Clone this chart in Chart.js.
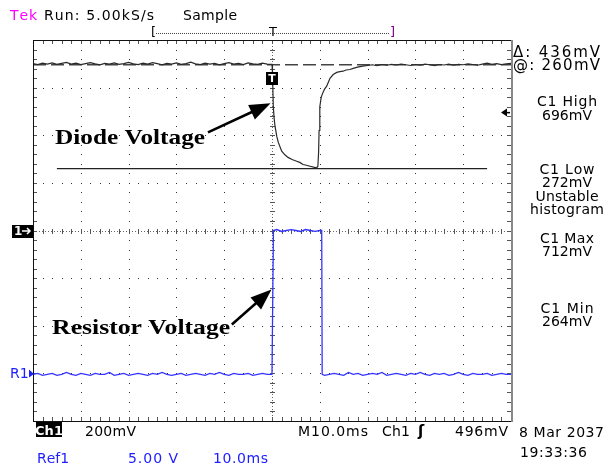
<!DOCTYPE html>
<html><head><meta charset="utf-8">
<script src="https://cdn.jsdelivr.net/npm/chart.js@4.4.0/dist/chart.umd.min.js"></script>
<style>html,body{margin:0;padding:0;background:#fff;} #wrap{position:relative;width:607px;height:468px;}</style>
</head><body><div id="wrap"><canvas id="c"></canvas></div>
<script>
// Ch1 (diode voltage), time in ms, value in mV
const ch1Times = [
-50,-49,-48,-47,-46,-45,-44,-43,-42,-41,
-40,-39,-38,-37,-36,-35,-34,-33,-32,-31,
-30,-29,-28,-27,-26,-25,-24,-23,-22,-21,
-20,-19,-18,-17,-16,-15,-14,-13,-12,-11,
-10,-9,-8,-7,-6,-5,-4,-3,-2,-1,
0,0.1,0.27,0.45,0.63,1.0,1.32,2.03,2.7,3.35,4.2,5.17,5.8,6.49,7.2,7.95,8.7,9.35,9.6,
9.75,9.85,10.0,10.3,10.67,11.0,11.44,12.13,12.8,13.54,14.2,14.85,15.5,16.3,17.0,17.7,18.4,19.0,
20,21,22,23,24,25,26,27,28,29,
30,31,32,33,34,35,36,37,38,39,
40,41,42,43,44,45,46,47,48,49,50];
const ch1Values = [
701,697,703,699,704,698,702,706,699,703,
697,701,705,700,696,702,699,704,698,701,
706,700,697,703,699,705,701,696,702,699,
704,698,701,707,700,697,703,699,702,696,
701,705,699,702,697,704,700,698,703,699,
698,660,522,470,438,395,370,333,318,307,298,291,286,277,274,270,266,263,270,
330,420,520,560,580,594,606,639,655,664,667,669,674,676,681,685,688,690,
693,696,692,697,694,698,695,699,696,693,
697,694,699,696,692,697,695,699,694,698,
696,700,697,694,699,703,698,701,697,700,702];
// Ref1 (resistor voltage), time in ms, value in V
const refTimes = [
-50,-49,-48,-47,-46,-45,-44,-43,-42,-41,
-40,-39,-38,-37,-36,-35,-34,-33,-32,-31,
-30,-29,-28,-27,-26,-25,-24,-23,-22,-21,
-20,-19,-18,-17,-16,-15,-14,-13,-12,-11,
-10,-9,-8,-7,-6,-5,-4,-3,-2,-1,0,
0.2,0.3,1,2,3,4,5,6,7,8,9,10,10.4,10.5,
11,12,13,14,15,16,17,18,19,20,
21,22,23,24,25,26,27,28,29,30,
31,32,33,34,35,36,37,38,39,40,
41,42,43,44,45,46,47,48,49,50];
const refValues = [
-0.1,0.0,-0.2,-0.1,0.0,-0.2,-0.1,0.1,-0.1,-0.2,
0.0,-0.1,-0.2,0.0,-0.1,-0.1,0.1,-0.2,-0.1,0.0,
-0.2,-0.1,0.0,-0.1,-0.2,0.0,-0.1,0.1,-0.1,-0.2,
-0.1,0.0,-0.2,-0.1,0.0,-0.1,-0.2,0.0,-0.1,0.1,
-0.1,-0.2,0.0,-0.1,-0.1,0.0,-0.2,-0.1,0.0,-0.1,-0.1,
-0.1,15.0,15.1,14.9,15.0,15.1,15.0,14.9,15.1,15.0,14.9,15.0,15.0,-0.1,
-0.2,-0.1,0.0,-0.1,-0.2,0.1,-0.1,0.0,-0.2,-0.1,
0.0,-0.1,0.1,-0.2,-0.1,0.0,-0.1,-0.2,0.0,-0.1,
0.1,-0.1,-0.2,0.0,-0.1,0.0,-0.2,-0.1,0.1,-0.1,
-0.2,0.0,-0.1,-0.1,0.0,-0.2,-0.1,0.0,-0.1,-0.1];
// Cursors (mV)
const cursorHighTimes = [-50, 50];
const cursorHighValues = [696, 696];
const cursorLowTimes = [-45, 45];
const cursorLowValues = [260, 260];
const triggerLevel = 496; // mV

const pts = (xs, ys) => xs.map((x, i) => ({x, y: ys[i]}));

function fitText(ctx, txt, x, y, w, align) {
  const chars = Array.from(txt);
  let sum = 0; for (const ch of chars) sum += ctx.measureText(ch).width;
  let sp = chars.length > 1 ? (w - sum) / (chars.length - 1) : 0;
  if (sp < 0) sp = 0;
  const total = sum + sp * (chars.length - 1);
  let cx = align === 'center' ? x - total / 2 : x;
  ctx.textAlign = 'left';
  for (const ch of chars) { ctx.fillText(ch, cx, y); cx += ctx.measureText(ch).width + sp; }
}
function stretchText(ctx, txt, x, y, w) {
  const m = ctx.measureText(txt).width;
  ctx.save(); ctx.translate(x, y); ctx.scale(w / m, 1); ctx.textAlign = 'left'; ctx.fillText(txt, 0, 0); ctx.restore();
}

const tekPlugin = {
  id: 'tek',
  beforeDatasetsDraw(chart) {
    const ctx = chart.ctx, a = chart.chartArea;
    const xs = chart.scales.x, ys = chart.scales.y;
    ctx.save();
    // dotted graticule
    ctx.fillStyle = '#333';
    for (let t = -40; t <= 40; t += 10) {
      if (t === 0) continue;
      const px = Math.round(xs.getPixelForValue(t));
      for (let v = -800; v <= 800; v += 40) ctx.fillRect(px, Math.round(ys.getPixelForValue(v)), 1, 1);
    }
    for (let v = -600; v <= 600; v += 200) {
      if (v === 0) continue;
      const py = Math.round(ys.getPixelForValue(v));
      for (let t = -50; t <= 50; t += 2) ctx.fillRect(Math.round(xs.getPixelForValue(t)), py, 1, 1);
    }
    // center crosshair (dotted) with minor cross ticks
    const x0 = xs.getPixelForValue(0), y0 = ys.getPixelForValue(0);
    ctx.strokeStyle = '#666'; ctx.lineWidth = 1;
    ctx.setLineDash([1, 2]);
    ctx.beginPath();
    ctx.moveTo(Math.round(x0) + 0.5, a.top); ctx.lineTo(Math.round(x0) + 0.5, a.bottom);
    ctx.moveTo(a.left, Math.round(y0) + 0.5); ctx.lineTo(a.right, Math.round(y0) + 0.5);
    ctx.stroke();
    ctx.setLineDash([]);
    ctx.strokeStyle = '#555';
    ctx.beginPath();
    for (let t = -50; t <= 50; t += 2) {
      const px = Math.round(xs.getPixelForValue(t)) + 0.5;
      ctx.moveTo(px, a.top); ctx.lineTo(px, a.top + 4);
      ctx.moveTo(px, a.bottom - 4); ctx.lineTo(px, a.bottom);
      ctx.moveTo(px, Math.round(y0) - 2); ctx.lineTo(px, Math.round(y0) + 3);
    }
    for (let v = -800; v <= 800; v += 40) {
      const py = Math.round(ys.getPixelForValue(v)) + 0.5;
      ctx.moveTo(a.left, py); ctx.lineTo(a.left + 4, py);
      ctx.moveTo(a.right - 4, py); ctx.lineTo(a.right, py);
      ctx.moveTo(Math.round(x0) - 2, py); ctx.lineTo(Math.round(x0) + 3, py);
    }
    ctx.stroke();
    ctx.restore();
  },
  afterDraw(chart) {
    const ctx = chart.ctx, a = chart.chartArea;
    const xs = chart.scales.x, ys = chart.scales.y, y2 = chart.scales.y2;
    ctx.save();
    // frame
    ctx.lineWidth = 1; ctx.strokeStyle = '#111';
    ctx.beginPath();
    ctx.moveTo(a.left + 0.5, a.top + 0.5); ctx.lineTo(a.right, a.top + 0.5);
    ctx.moveTo(a.left + 0.5, a.top); ctx.lineTo(a.left + 0.5, a.bottom + 1);
    ctx.moveTo(a.left, a.bottom + 0.5); ctx.lineTo(a.right, a.bottom + 0.5);
    ctx.stroke();
    ctx.strokeStyle = '#888'; ctx.lineWidth = 2;
    ctx.beginPath(); ctx.moveTo(a.right + 1, a.top); ctx.lineTo(a.right + 1, a.bottom + 1); ctx.stroke();

    const x0 = xs.getPixelForValue(0);
    // trigger position box on trace
    ctx.fillStyle = '#000';
    ctx.fillRect(Math.round(x0) - 6, 72, 12, 13);
    ctx.fillStyle = '#fff';
    ctx.font = 'bold 11px "DejaVu Sans"'; ctx.textAlign = 'center'; ctx.textBaseline = 'middle';
    ctx.fillText('T', Math.round(x0), 79);

    // annotations (positions in data units)
    function arrow(t1, v1, t2, v2) {
      const ax = xs.getPixelForValue(t1), ay = ys.getPixelForValue(v1);
      const bx = xs.getPixelForValue(t2), by = ys.getPixelForValue(v2);
      const ang = Math.atan2(by - ay, bx - ax);
      const L = 21, W = 8;
      const cx = bx - L * Math.cos(ang), cy = by - L * Math.sin(ang);
      ctx.strokeStyle = '#000'; ctx.lineWidth = 2.5;
      ctx.beginPath(); ctx.moveTo(ax, ay); ctx.lineTo(cx + 4 * Math.cos(ang), cy + 4 * Math.sin(ang)); ctx.stroke();
      ctx.fillStyle = '#000';
      ctx.beginPath();
      ctx.moveTo(bx, by);
      ctx.lineTo(cx - W * Math.sin(ang), cy + W * Math.cos(ang));
      ctx.lineTo(cx + W * Math.sin(ang), cy - W * Math.cos(ang));
      ctx.closePath(); ctx.fill();
    }
    ctx.font = 'bold 22px "Liberation Serif"'; ctx.textBaseline = 'alphabetic';
    ctx.fillStyle = '#000';
    stretchText(ctx, 'Diode Voltage', xs.getPixelForValue(-45.4), ys.getPixelForValue(365), 150);
    stretchText(ctx, 'Resistor Voltage', xs.getPixelForValue(-46), ys.getPixelForValue(-433), 178);
    arrow(-13.4, 412, -0.3, 534);
    arrow(-8.4, -395, -0.1, -248);

    // left markers
    const y0 = ys.getPixelForValue(0);
    ctx.fillStyle = '#000';
    ctx.fillRect(12, Math.round(y0) - 6, 21, 13);
    ctx.fillStyle = '#fff'; ctx.font = 'bold 12px "DejaVu Sans"';
    ctx.textAlign = 'left'; ctx.textBaseline = 'middle';
    ctx.fillText('1', 14, Math.round(y0) + 0.5);
    ctx.strokeStyle = '#fff'; ctx.lineWidth = 1.5;
    ctx.beginPath(); ctx.moveTo(22, y0 + 0.5); ctx.lineTo(30, y0 + 0.5);
    ctx.moveTo(27, y0 - 2.5); ctx.lineTo(30, y0 + 0.5); ctx.lineTo(27, y0 + 3.5); ctx.stroke();
    const r0 = y2.getPixelForValue(0);
    ctx.fillStyle = '#2020ff'; ctx.font = '14px "DejaVu Sans"';
    ctx.fillText('R1', 10, r0 + 0.5);
    ctx.beginPath(); ctx.moveTo(29, r0 - 4); ctx.lineTo(34, r0 + 0.5); ctx.lineTo(29, r0 + 4); ctx.closePath(); ctx.fill();

    // trigger level arrow on right
    const ty = ys.getPixelForValue(triggerLevel);
    ctx.fillStyle = '#000';
    ctx.beginPath(); ctx.moveTo(501, ty); ctx.lineTo(507, ty - 4); ctx.lineTo(507, ty + 4); ctx.closePath(); ctx.fill();
    ctx.fillRect(506, ty - 0.5, 4, 1.5);

    // top header
    ctx.textBaseline = 'alphabetic';
    ctx.font = '14px "DejaVu Sans"';
    ctx.fillStyle = '#ff00ff'; fitText(ctx, 'Tek', 10, 19.5, 27);
    ctx.fillStyle = '#000'; fitText(ctx, 'Run: 5.00kS/s', 44, 19.5, 110);
    fitText(ctx, 'Sample', 183, 19.5, 54);
    // record ruler
    ctx.textBaseline = 'middle';
    ctx.font = '13px "DejaVu Sans"';
    ctx.textAlign = 'left';
    ctx.fillText('[', 151, 33);
    ctx.fillStyle = '#800080'; ctx.fillText(']', 390, 33);
    ctx.strokeStyle = '#444'; ctx.lineWidth = 1; ctx.setLineDash([1, 1]);
    ctx.beginPath(); ctx.moveTo(156, 33.5); ctx.lineTo(389, 33.5); ctx.stroke();
    ctx.setLineDash([]);
    ctx.fillStyle = '#000'; ctx.textAlign = 'center'; ctx.fillText('T', Math.round(x0) + 1, 33);

    // right panel
    ctx.textBaseline = 'alphabetic'; ctx.font = '15px "DejaVu Sans"'; ctx.fillStyle = '#000';
    fitText(ctx, '\u0394: 436mV', 513, 57, 87);
    fitText(ctx, '@: 260mV', 513, 70, 87);
    ctx.font = '14px "DejaVu Sans"';
    const rc = 567;
    fitText(ctx, 'C1 High', rc, 106, 60, 'center');
    fitText(ctx, '696mV', rc, 119.5, 49, 'center');
    fitText(ctx, 'C1 Low', rc, 174, 55, 'center');
    fitText(ctx, '272mV', rc, 187, 49, 'center');
    fitText(ctx, 'Unstable', rc, 200.5, 63, 'center');
    fitText(ctx, 'histogram', rc, 214, 74, 'center');
    fitText(ctx, 'C1 Max', rc, 242.5, 54, 'center');
    fitText(ctx, '712mV', rc, 255.5, 50, 'center');
    fitText(ctx, 'C1 Min', rc, 312.5, 53, 'center');
    fitText(ctx, '264mV', rc, 326, 50, 'center');

    // bottom status
    ctx.fillStyle = '#000'; ctx.fillRect(36, 422, 26, 15);
    ctx.fillStyle = '#fff'; ctx.font = 'bold 13px "DejaVu Sans"'; ctx.textAlign = 'center';
    ctx.fillText('Ch1', 49, 434.5);
    ctx.fillStyle = '#000'; ctx.font = '14px "DejaVu Sans"';
    fitText(ctx, '200mV', 85, 435.5, 51);
    fitText(ctx, 'M10.0ms', 298, 435.5, 70);
    fitText(ctx, 'Ch1', 382, 435.5, 28);
    ctx.font = 'bold 15px "DejaVu Sans"'; ctx.fillText('\u0283', 418, 435.5);
    ctx.font = '14px "DejaVu Sans"';
    fitText(ctx, '496mV', 455, 435.5, 53);
    fitText(ctx, '8 Mar 2037', 519, 437, 85);
    fitText(ctx, '19:33:36', 520, 457, 67);
    ctx.fillStyle = '#2020ff';
    fitText(ctx, 'Ref1', 37, 462.5, 32);
    fitText(ctx, '5.00 V', 128, 462.5, 50);
    fitText(ctx, '10.0ms', 213, 462.5, 55);
    ctx.restore();
  }
};

new Chart(document.getElementById('c'), {
  type: 'line',
  data: {
    datasets: [
      { label: 'Ch1', data: pts(ch1Times, ch1Values), yAxisID: 'y', borderColor: '#2a2a2a', borderWidth: 1.2, pointRadius: 0, tension: 0 },
      { label: 'Ref1', data: pts(refTimes, refValues), yAxisID: 'y2', borderColor: '#3434ff', borderWidth: 1.3, pointRadius: 0, tension: 0 },
      { label: 'Cursor high', data: pts(cursorHighTimes, cursorHighValues), yAxisID: 'y', borderColor: '#444', borderWidth: 1.5, borderDash: [13, 5], pointRadius: 0 },
      { label: 'Cursor low', data: pts(cursorLowTimes, cursorLowValues), yAxisID: 'y', borderColor: '#222', borderWidth: 1.3, pointRadius: 0 }
    ]
  },
  options: {
    responsive: true, maintainAspectRatio: false, animation: false,
    layout: { padding: { left: 33, top: 40, right: 96, bottom: 47 } },
    plugins: { legend: { display: false }, tooltip: { enabled: false } },
    scales: {
      x: { type: 'linear', min: -50, max: 50,
        ticks: { display: false, stepSize: 10 },
        grid: { display: false, drawTicks: false },
        border: { display: false } },
      y: { type: 'linear', min: -800, max: 800,
        ticks: { display: false, stepSize: 200 },
        grid: { display: false, drawTicks: false },
        border: { display: false } },
      y2: { type: 'linear', min: -5, max: 35, display: false }
    }
  },
  plugins: [tekPlugin]
});
</script>
</body></html>
